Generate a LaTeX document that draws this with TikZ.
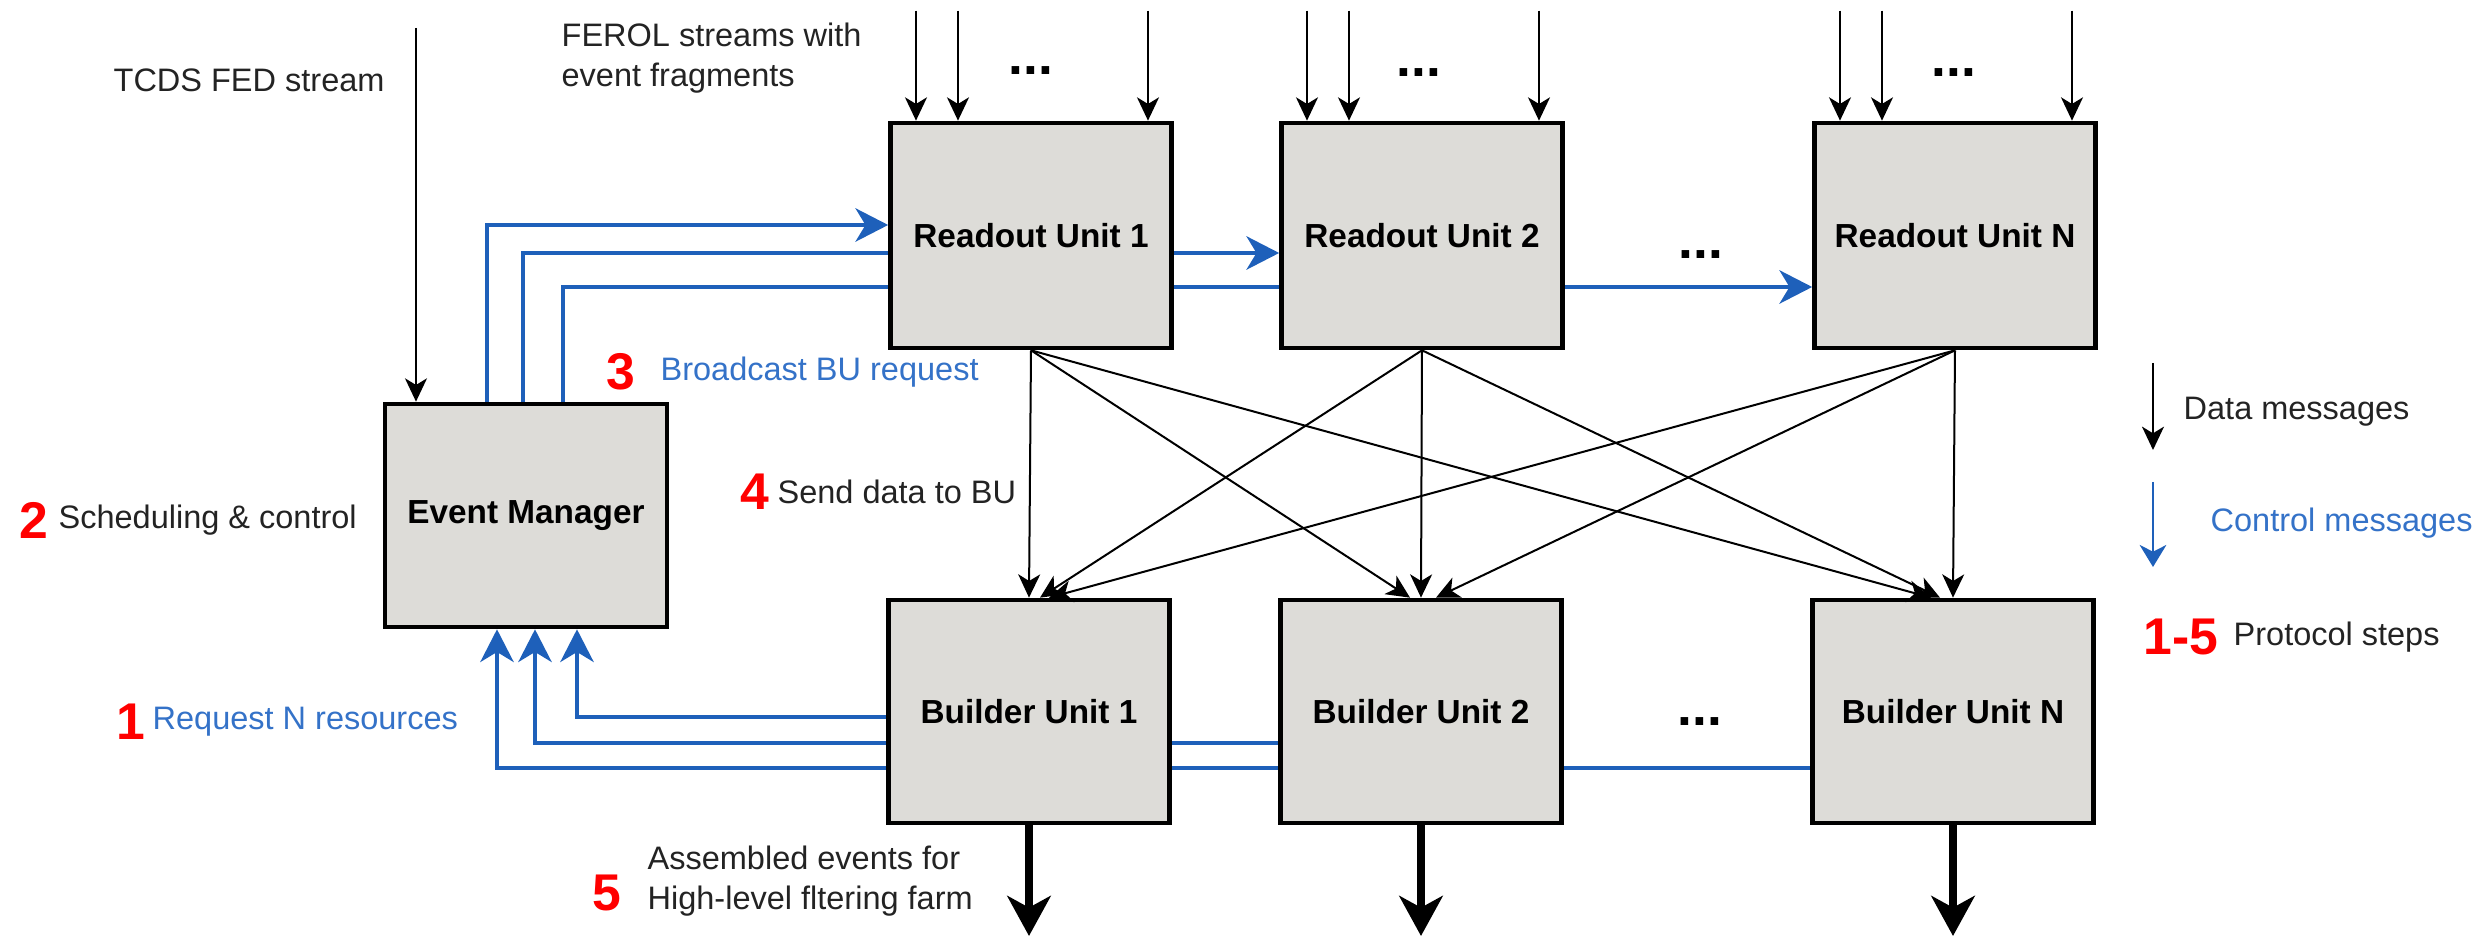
\documentclass[tikz,border=0pt]{standalone}
\usepackage{fontspec}
\setmainfont{Liberation Sans}
\usetikzlibrary{arrows.meta,calc,backgrounds}
\definecolor{boxgray}{RGB}{221,220,216}
\definecolor{ctrlblue}{RGB}{30,96,186}
\definecolor{ctrltext}{RGB}{52,114,200}
\definecolor{stepred}{RGB}{255,0,0}
\definecolor{txtgray}{RGB}{35,35,35}
\begin{document}
\begin{tikzpicture}[x=0.3pt,y=-0.3pt,
  unit/.style={draw=black,line width=1.4pt,fill=boxgray,minimum width=84.3pt,inner sep=0pt,
    font=\fontsize{10}{12}\selectfont\bfseries},
  ru/.style={unit,minimum height=67.5pt},
  bu/.style={unit,minimum height=66.9pt},
  data/.style={draw=black,line width=0.6pt,-{Stealth[length=7pt,width=6.6pt,inset=2pt]}},
  ctrl/.style={draw=ctrlblue,line width=1.2pt},
  ctrlarrow/.style={ctrl,-{Stealth[length=9.8pt,width=10pt,inset=3pt]}},
  outflow/.style={draw=black,line width=2.2pt,-{Stealth[length=12pt,width=13pt,inset=3.5pt]}},
  lbl/.style={anchor=west,inner sep=0pt,text=txtgray,font=\fontsize{9.75}{12}\selectfont},
  ctrllbl/.style={lbl,text=ctrltext},
  stepnum/.style={anchor=west,inner sep=0pt,text=stepred,font=\fontsize{15.5}{18}\selectfont\bfseries},
  more/.style={inner sep=0pt,font=\fontsize{16}{18}\selectfont\bfseries}
]
\useasboundingbox (0,0) rectangle (2473,936);

% units
\node[ru] (ru1) at (1031,235.5) {Readout Unit 1};
\node[ru] (ru2) at (1422,235.5) {Readout Unit 2};
\node[ru] (ruN) at (1955,235.5) {Readout Unit N};
\node[unit,minimum width=84.6pt,minimum height=66.9pt] (em) at (526,515.5) {Event Manager};
\node[bu] (bu1) at (1029,711.5) {Builder Unit 1};
\node[bu] (bu2) at (1421,711.5) {Builder Unit 2};
\node[bu] (buN) at (1953,711.5) {Builder Unit N};

% FEROL input streams
\foreach \r in {ru1,ru2,ruN}
  \foreach \dx in {-115,-73,117}
    \draw[data] ($(\r.north)+(\dx,-110)$) -- ($(\r.north)+(\dx,0)$);
\node[more] (dotsA) at ($(ru1.north)+(0,-50)$) {...};
\node[more] (dotsB) at ($(ru2.north)+(-3,-48)$) {...};
\node[more] (dotsC) at ($(ruN.north)+(-1,-48)$) {...};
\node[more] (dotsD) at (1701,255) {...};
\node[more] (dotsE) at (1700,722) {...};

% TCDS stream
\coordinate (tcds) at (416,28);
\draw[data] (tcds) -- (tcds |- em.north);

% RU -> BU data
\draw[data] (ru1.south) -- (bu1.north);
\draw[data] (ru1.south) -- ($(bu2.north)+(-11,0)$);
\draw[data] (ru1.south) -- ($(buN.north)+(-22,0)$);
\draw[data] (ru2.south) -- ($(bu1.north)+(11,0)$);
\draw[data] (ru2.south) -- (bu2.north);
\draw[data] (ru2.south) -- ($(buN.north)+(-13,0)$);
\draw[data] (ruN.south) -- ($(bu1.north)+(20,0)$);
\draw[data] (ruN.south) -- ($(bu2.north)+(15,0)$);
\draw[data] (ruN.south) -- (buN.north);

% assembled events out
\coordinate (floor) at (0,936);
\draw[outflow] (bu1.south) -- (bu1.south |- floor);
\draw[outflow] (bu2.south) -- (bu2.south |- floor);
\draw[outflow] (buN.south) -- (buN.south |- floor);

% control messages
\coordinate (c1) at (0,225);
\coordinate (c2) at (0,253);
\coordinate (c3) at (0,287);
\coordinate (c4) at (0,717);
\coordinate (c5) at (0,743);
\coordinate (c6) at (0,768);
\begin{scope}[on background layer]
\draw[ctrlarrow] ($(em.north)+(-39,0)$) |- (ru1.west |- c1);
\draw[ctrlarrow] ($(em.north)+(-3,0)$) |- (ru2.west |- c2);
\draw[ctrlarrow] ($(em.north)+(37,0)$) |- (ruN.west |- c3);
\draw[ctrlarrow] (bu1.west |- c4) -| ($(em.south)+(51,0)$);
\draw[ctrlarrow] (bu2.west |- c5) -| ($(em.south)+(9,0)$);
\draw[ctrlarrow] (buN.west |- c6) -| ($(em.south)+(-29,0)$);
\end{scope}

% labels
\node[lbl] (tcdsl) at (113,80) {TCDS FED stream};
\node[lbl,align=left] (ferol) at (561,58) {FEROL streams with\\event fragments};
\node[stepnum] (n3) at (606,372) {3};
\node[ctrllbl] (t3) at (660,372) {Broadcast BU request};
\node[stepnum] (n2) at (19,520) {2};
\node[lbl] (t2) at (58,520) {Scheduling \& control};
\node[stepnum] (n4) at (740,492) {4};
\node[lbl] (t4) at (777,492) {Send data to BU};
\node[stepnum] (n1) at (116,722) {1};
\node[ctrllbl] (t1) at (152,722) {Request N resources};
\node[stepnum] (n5) at (592,893) {5};
\node[lbl,align=left] (t5) at (647,881) {Assembled events for\\High-level fltering farm};

% legend
\coordinate (lgA) at (2153,363);
\coordinate (lgB) at (2153,450);
\draw[data] (lgA) -- (lgB);
\node[lbl] (tdata) at (2183,412) {Data messages};
\coordinate (lgC) at (2153,482);
\coordinate (lgD) at (2153,567);
\draw[draw=ctrlblue,line width=0.6pt,-{Stealth[length=6.6pt,width=8pt,inset=2pt]}] (lgC) -- (lgD);
\node[ctrllbl] (tctrl) at (2210,523) {Control messages};
\node[stepnum] (n15) at (2143,637) {1-5};
\node[lbl] (tsteps) at (2233,637) {Protocol steps};
\end{tikzpicture}
\end{document}
